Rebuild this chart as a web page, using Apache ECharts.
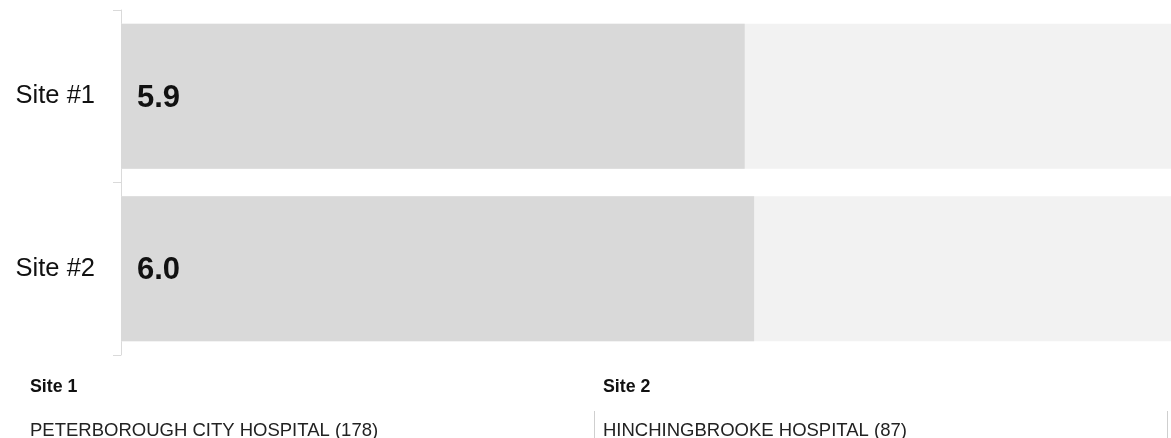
<!DOCTYPE html>
<html>
<head>
<meta charset="utf-8">
<title>Site scores</title>
<script src="https://cdn.jsdelivr.net/npm/echarts@6/dist/echarts.min.js"></script>
<style>
  html, body { margin: 0; padding: 0; background: #fff; }
  #chart { width: 1171px; height: 438px; }
</style>
</head>
<body>
<div id="chart"></div>
<script>
const categories = ['Site #1', 'Site #2']
// unrounded scores, shown with one decimal
const values = [5.94, 6.03]
const scaleMax = 10
const siteHeaders = ['Site 1', 'Site 2']
const siteNames = ['PETERBOROUGH CITY HOSPITAL', 'HINCHINGBROOKE HOSPITAL']
const siteCounts = [178, 87]

const FONT = '"Liberation Sans", Arial, sans-serif'
const chart = echarts.init(document.getElementById('chart'), undefined, { renderer: 'canvas' })

// footer: site header + hospital name per column
const colX = [30, 603]
const footer = []
siteHeaders.forEach((h, i) => {
  footer.push({
    type: 'text',
    left: colX[i],
    top: 378,
    style: { text: h, font: 'bold 17.8px ' + FONT, fill: '#111' },
  })
  footer.push({
    type: 'text',
    left: colX[i],
    top: 421,
    style: { text: siteNames[i] + ' (' + siteCounts[i] + ')', font: '18.5px ' + FONT, fill: '#222' },
  })
})
;[594.5, 1167.5].forEach(x => {
  footer.push({
    type: 'line',
    shape: { x1: x, y1: 411, x2: x, y2: 438 },
    style: { stroke: '#cfcfcf', lineWidth: 1 },
  })
})

chart.setOption({
  animation: false,
  grid: { left: 121, right: 0, top: 10, bottom: 83 },
  xAxis: {
    type: 'value',
    min: 0,
    max: scaleMax,
    show: false,
  },
  yAxis: {
    type: 'category',
    inverse: true,
    data: categories,
    axisLine: { lineStyle: { color: '#dadada', width: 1 } },
    axisTick: { show: true, length: 8, lineStyle: { color: '#dadada' } },
    axisLabel: { color: '#111', fontSize: 25.5, fontFamily: FONT, margin: 26 },
  },
  series: [
    {
      type: 'bar',
      data: values,
      barCategoryGap: '16%',
      showBackground: true,
      backgroundStyle: { color: '#f2f2f2' },
      itemStyle: { color: '#d9d9d9' },
      label: {
        show: true,
        position: 'insideLeft',
        distance: 16,
        offset: [0, 2],
        color: '#111',
        fontSize: 31,
        fontWeight: 'bold',
        fontFamily: FONT,
        formatter: p => Number(p.value).toFixed(1),
      },
    },
  ],
  graphic: footer,
})

window.addEventListener('resize', () => chart.resize())
</script>
</body>
</html>
